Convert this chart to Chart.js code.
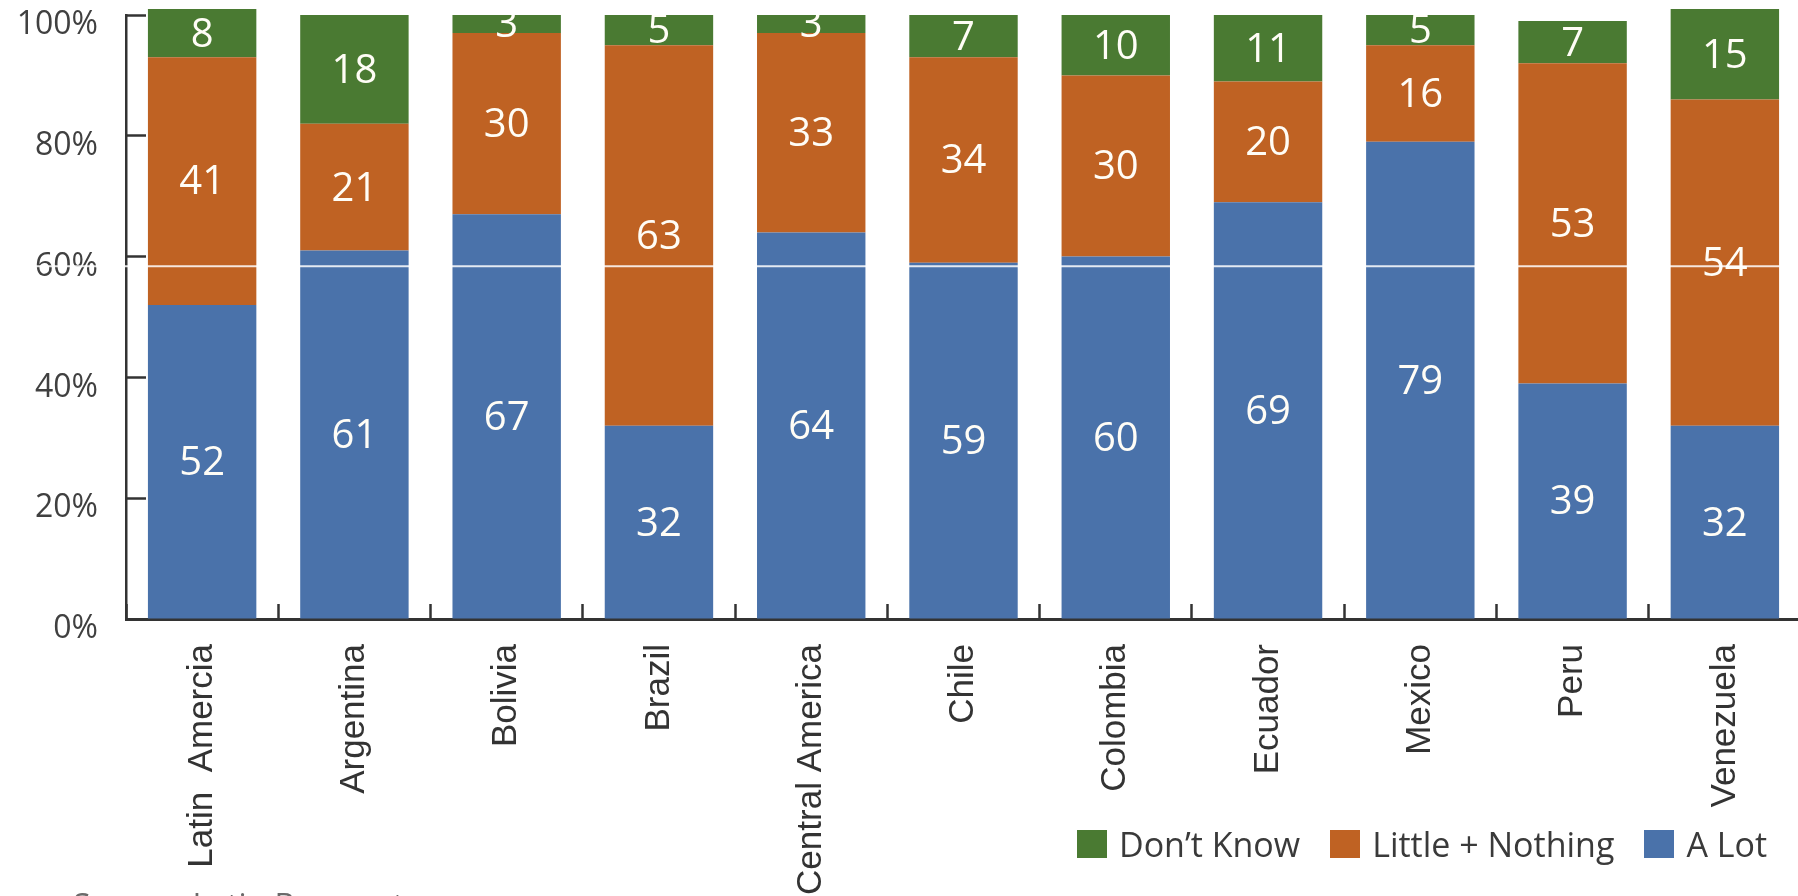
<!DOCTYPE html>
<html>
<head>
<meta charset="utf-8">
<script src="https://cdn.jsdelivr.net/npm/chart.js@4.4.1/dist/chart.umd.min.js"></script>
<style>
  html, body { margin: 0; padding: 0; background: #fff; overflow: hidden; }
  #wrap { position: relative; width: 1812px; height: 896px; }
  #legend {
    position: absolute; left: 1077px; top: 826px;
    display: flex; align-items: center;
    font-family: 'Open Sans', sans-serif; font-size: 34px; line-height: 36px; color: #3a3a3a;
  }
  #legend .item { display: flex; align-items: center; margin-right: 30px; }
  #legend .box { width: 30px; height: 28px; margin-right: 12px; }
  #source {
    position: absolute; left: 73px; top: 889px;
    font-family: 'Open Sans', sans-serif; font-size: 32px; line-height: 32px; color: #6a6a6a;
    white-space: nowrap;
  }
</style>
</head>
<body>
<div id="wrap">
  <canvas id="chart"></canvas>
  <div id="legend"></div>
  <div id="source">Source: Latin Barometer</div>
</div>
<script>
// ---- данные ----
const categories = ['Latin  Amercia', 'Argentina', 'Bolivia', 'Brazil', 'Central America',
  'Chile', 'Colombia', 'Ecuador', 'Mexico', 'Peru', 'Venezuela'];
const aLot          = [52, 61, 67, 32, 64, 59, 60, 69, 79, 39, 32];
const littleNothing = [41, 21, 30, 63, 33, 34, 30, 20, 16, 53, 54];
const dontKnow      = [ 8, 18,  3,  5,  3,  7, 10, 11,  5,  7, 15];
const yTicks = [0, 20, 40, 60, 80, 100];

const colors = { aLot: '#4a72aa', little: '#bf6223', dontKnow: '#4a7a32' };

// подписи значений внутри сегментов
const segmentLabels = {
  id: 'segmentLabels',
  afterDatasetsDraw(chart) {
    const { ctx, chartArea } = chart;
    ctx.save();
    ctx.beginPath();
    ctx.rect(0, chartArea.top, chart.width, chartArea.bottom - chartArea.top);
    ctx.clip();
    ctx.fillStyle = '#fffdf6';
    ctx.font = "40px 'Open Sans', sans-serif";
    ctx.textAlign = 'center';
    ctx.textBaseline = 'middle';
    chart.data.datasets.forEach((ds, i) => {
      chart.getDatasetMeta(i).data.forEach((bar, j) => {
        ctx.fillText(String(ds.data[j]), bar.x, (bar.y + bar.base) / 2 + 2);
      });
    });
    ctx.restore();
  }
};

// светлая полоса скана поперёк графика
const scanLine = {
  id: 'scanLine',
  afterDraw(chart) {
    const y = chart.scales.y.getPixelForValue(58.4);
    const ctx = chart.ctx;
    ctx.save();
    ctx.strokeStyle = 'rgba(255,255,255,0.85)';
    ctx.lineWidth = 2;
    ctx.beginPath();
    ctx.moveTo(30, y);
    ctx.lineTo(chart.width, y);
    ctx.stroke();
    ctx.restore();
  }
};

const chart = new Chart(document.getElementById('chart'), {
  type: 'bar',
  data: {
    labels: categories,
    datasets: [
      { label: 'A Lot', data: aLot, backgroundColor: colors.aLot },
      { label: 'Little + Nothing', data: littleNothing, backgroundColor: colors.little },
      { label: "Don\u2019t Know", data: dontKnow, backgroundColor: colors.dontKnow }
    ]
  },
  options: {
    responsive: true,
    maintainAspectRatio: false,
    animation: false,
    devicePixelRatio: 1,
    layout: { padding: { top: 15, right: 11, left: 0, bottom: 0 } },
    datasets: { bar: { categoryPercentage: 1, barPercentage: 0.712, clip: false } },
    plugins: { legend: { display: false }, tooltip: { enabled: false } },
    scales: {
      x: {
        stacked: true,
        grid: { drawOnChartArea: false, drawTicks: true, tickLength: -15, tickColor: '#333', tickWidth: 2.5, offset: true },
        border: { display: true, color: '#333', width: 3 },
        ticks: {
          autoSkip: false, minRotation: 90, maxRotation: 90, padding: 40,
          color: '#333', font: { family: "'Liberation Sans', Arial, sans-serif", size: 35 }
        },
        afterFit(s) { s.height = 277; s.paddingLeft = 0; s.paddingRight = 0; }
      },
      y: {
        stacked: true, min: 0, max: 100,
        afterBuildTicks(s) { s.ticks = yTicks.map(v => ({ value: v })); },
        grid: { drawOnChartArea: false, drawTicks: true, tickLength: -20, tickColor: '#333', tickWidth: 2.5 },
        border: { display: true, color: '#333', width: 2.5 },
        ticks: {
          padding: 48, labelOffset: 10, color: '#404040',
          font: { family: "'Open Sans', sans-serif", size: 32 },
          callback: v => v + '%'
        },
        afterFit(s) { s.width = 126; s.paddingTop = 0; s.paddingBottom = 0; }
      }
    }
  },
  plugins: [segmentLabels, scanLine]
});

// легенда (порядок как в оригинале: сверху вниз по стопке)
const legend = document.getElementById('legend');
chart.data.datasets.slice().reverse().forEach(ds => {
  const item = document.createElement('div');
  item.className = 'item';
  item.innerHTML = `<span class="box" style="background:${ds.backgroundColor}"></span><span>${ds.label}</span>`;
  legend.appendChild(item);
});
</script>
</body>
</html>
